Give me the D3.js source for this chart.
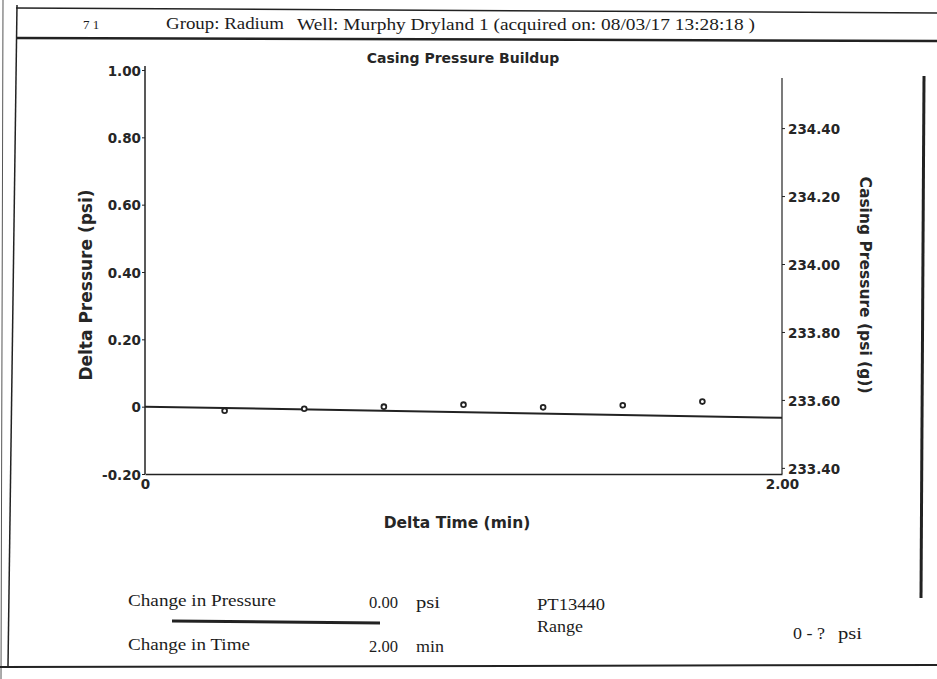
<!DOCTYPE html>
<html>
<head>
<meta charset="utf-8">
<script src="https://cdn.jsdelivr.net/npm/d3@7"></script>
<style>
  body { margin: 0; background: #fff; }
  svg { display: block; }
  .serif { font-family: "Liberation Serif", "Times New Roman", serif; fill: #1c1c1c; }
  .sans { font-family: "DejaVu Sans", Arial, sans-serif; font-weight: bold; fill: #262626; }
</style>
</head>
<body>
<svg id="chart" width="937" height="679"></svg>
<script>
// data
const times = [0.25, 0.5, 0.75, 1.0, 1.25, 1.5, 1.75];
const deltaPts = [-0.012, -0.006, 0.0, 0.006, -0.002, 0.004, 0.015];
const lineTimes = [0, 2];
const lineDelta = [0, -0.033];
const leftTicks = [-0.2, 0, 0.2, 0.4, 0.6, 0.8, 1.0];
const rightTicks = [233.4, 233.6, 233.8, 234.0, 234.2, 234.4];
const xTicks = [0, 2];

const svg = d3.select("#chart");
const ink = "#222";
const fmt = d => d === 0 ? "0" : d3.format(".2f")(d).replace("\u2212", "-");

// page frame (scanned form)
svg.append("line").attr("x1", 16).attr("y1", 8).attr("x2", 937).attr("y2", 13).attr("stroke", ink).attr("stroke-width", 1.5);
svg.append("line").attr("x1", 17).attr("y1", 38).attr("x2", 937).attr("y2", 41).attr("stroke", ink).attr("stroke-width", 2.5);
svg.append("line").attr("x1", 17).attr("y1", 5).attr("x2", 8).attr("y2", 666).attr("stroke", ink).attr("stroke-width", 1.5);
svg.append("line").attr("x1", 3).attr("y1", 0).attr("x2", 1).attr("y2", 679).attr("stroke", "#555").attr("stroke-width", 1);
svg.append("line").attr("x1", 0).attr("y1", 667).attr("x2", 937).attr("y2", 665).attr("stroke", ink).attr("stroke-width", 2);
svg.append("line").attr("x1", 924).attr("y1", 76).attr("x2", 921).attr("y2", 598).attr("stroke", ink).attr("stroke-width", 3);

// serif text helper, stretched to the scanned widths
function serifText(g, x0, y0, str, len) {
  const t = g.append("text").attr("x", x0).attr("y", y0).text(str);
  if (len) t.attr("textLength", len).attr("lengthAdjust", "spacingAndGlyphs");
  return t;
}

// header
const header = svg.append("g").attr("class", "serif").style("font-size", "17px");
serifText(header, 83, 29, "7 1").style("font-size", "13px");
serifText(header, 166, 29, "Group: Radium", 118);
serifText(header, 297, 30, "Well: Murphy Dryland 1 (acquired on: 08/03/17 13:28:18 )", 458);

// scales
const x = d3.scaleLinear().domain([0, 2]).range([145, 782]);
const y = d3.scaleLinear().domain([-0.2, 1.0]).range([474, 70]);
const y2 = d3.scaleLinear().domain([233.382, 234.571]).range([474, 70]);

svg.append("text").attr("class", "sans").attr("x", 463).attr("y", 63)
  .attr("text-anchor", "middle").style("font-size", "14px").text("Casing Pressure Buildup");

// left axis
const gl = svg.append("g").attr("transform", "translate(145,0)")
  .call(d3.axisLeft(y).tickValues(leftTicks).tickSize(3).tickPadding(1).tickFormat(fmt));
gl.select(".domain").attr("stroke", ink).attr("stroke-width", 1.5).attr("d", "M0,474V66");
gl.selectAll("line").attr("stroke", ink);
gl.selectAll("text").attr("class", "sans").style("font-size", "13.5px").attr("dy", "0.38em");

// right axis
const gr = svg.append("g").attr("transform", "translate(782,0)")
  .call(d3.axisRight(y2).tickValues(rightTicks).tickSize(3).tickPadding(3).tickFormat(fmt));
gr.select(".domain").attr("stroke", ink).attr("stroke-width", 1.2).attr("d", "M0,474V78");
gr.selectAll("line").attr("stroke", ink);
gr.selectAll("text").attr("class", "sans").style("font-size", "13.5px").attr("dy", "0.38em");

// bottom axis
const gb = svg.append("g").attr("transform", "translate(0,474)")
  .call(d3.axisBottom(x).tickValues(xTicks).tickSize(0).tickPadding(5).tickFormat(fmt));
gb.select(".domain").attr("stroke", ink).attr("stroke-width", 1.5);
gb.selectAll("text").attr("class", "sans").style("font-size", "13.5px");

// axis titles
svg.append("text").attr("class", "sans").attr("x", 457).attr("y", 528)
  .attr("text-anchor", "middle").style("font-size", "15.5px").text("Delta Time (min)");
svg.append("text").attr("class", "sans").attr("transform", "translate(92,285) rotate(-90)")
  .attr("text-anchor", "middle").style("font-size", "17px").text("Delta Pressure (psi)");
svg.append("text").attr("class", "sans").attr("transform", "translate(860,285) rotate(90)")
  .attr("text-anchor", "middle").style("font-size", "15.5px").text("Casing Pressure (psi (g))");

// trend line
const lineData = lineTimes.map((t, i) => ({ t: t, v: lineDelta[i] }));
svg.append("path").datum(lineData)
  .attr("fill", "none").attr("stroke", ink).attr("stroke-width", 2)
  .attr("d", d3.line().x(d => x(d.t)).y(d => y(d.v)));

// readings
svg.append("g").selectAll("circle")
  .data(times.map((t, i) => ({ t: t, v: deltaPts[i] })))
  .join("circle")
  .attr("cx", d => x(d.t)).attr("cy", d => y(d.v)).attr("r", 2.4)
  .attr("fill", "#fff").attr("stroke", ink).attr("stroke-width", 1.8);

// footer
const foot = svg.append("g").attr("class", "serif").style("font-size", "17px");
serifText(foot, 128, 606, "Change in Pressure", 148);
serifText(foot, 369, 608, "0.00", 29);
serifText(foot, 416, 608, "psi", 24);
serifText(foot, 128, 650, "Change in Time", 122);
serifText(foot, 369, 652, "2.00", 29);
serifText(foot, 416, 652, "min", 28);
serifText(foot, 537, 610, "PT13440", 68);
serifText(foot, 537, 632, "Range", 46);
serifText(foot, 793, 639, "0 - ?", 32);
serifText(foot, 838, 639, "psi", 24);
svg.append("line").attr("x1", 172).attr("y1", 621).attr("x2", 380).attr("y2", 623)
  .attr("stroke", ink).attr("stroke-width", 3);
</script>
</body>
</html>
